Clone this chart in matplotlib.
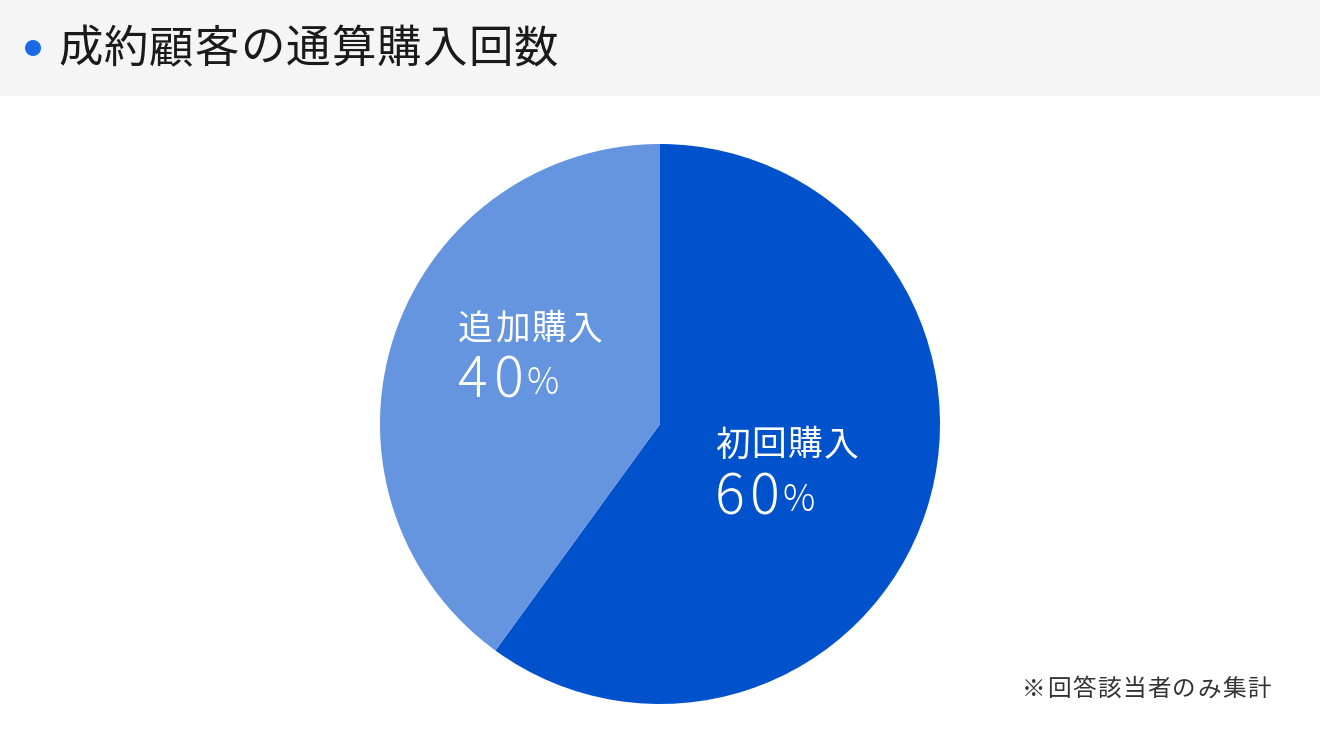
import matplotlib
matplotlib.use("Agg")
import matplotlib.pyplot as plt
from matplotlib.patches import Rectangle, Circle

plt.rcParams['font.family'] = ['Noto Sans CJK JP', 'DejaVu Sans']

title = "成約顧客の通算購入回数"
categories = ["初回購入", "追加購入"]
values = [60, 40]
colors = ["#0052CC", "#6495DE"]
note = "※回答該当者のみ集計"

W, H = 1320, 752
fig = plt.figure(figsize=(W / 100, H / 100), dpi=100)
ax = fig.add_axes([0, 0, 1, 1])
renderer = fig.canvas.get_renderer()


def Y(y):
    return H - y


def ink_width(s, size, weight='normal'):
    t = ax.text(0, 0, s, fontsize=size, fontweight=weight)
    w = t.get_window_extent(renderer=renderer).width
    t.remove()
    return w


def spaced(s, x0, x1, y, size, color, weight='normal'):
    """Draw string s with its glyphs spread evenly so the ink spans x0..x1."""
    n = len(s)
    g0 = ink_width(s[0], size, weight)
    g1 = ink_width(s[-1], size, weight)
    c0 = x0 + g0 / 2
    c1 = x1 - g1 / 2
    step = (c1 - c0) / (n - 1) if n > 1 else 0
    for i, ch in enumerate(s):
        ax.text(c0 + i * step, Y(y), ch, fontsize=size, color=color,
                ha='center', va='center', fontweight=weight)


# header bar
ax.add_patch(Rectangle((0, Y(96)), W, 96, color="#F5F5F5", lw=0, zorder=0))
ax.add_patch(Circle((33, Y(48)), 8, color="#1A6AE6", lw=0, zorder=1))
spaced(title, 58, 558, 49, 32, "#1A1A1A")

# pie
ax.pie(values, colors=colors, startangle=90, counterclock=False,
       center=(660, Y(424)), radius=280, frame=True,
       wedgeprops=dict(linewidth=0))
ax.set_xlim(0, W)
ax.set_ylim(0, H)
ax.set_aspect('equal')
ax.axis('off')

# labels: (name x0, x1, y), (digits x0, x1, y), percent x
label_layout = {
    "追加購入": ((458, 603, 330), (458, 524, 381), 527),
    "初回購入": ((715, 859, 446), (715, 780, 498), 783),
}
for cat, val in zip(categories, values):
    (nx0, nx1, ny), (dx0, dx1, dy), px = label_layout[cat]
    spaced(cat, nx0, nx1, ny, 25, "white")
    spaced(f"{val}", dx0, dx1, dy, 40, "white", weight='light')
    ax.text(px, Y(dy + 3), "%", fontsize=26, color="white", ha='left', va='center',
            fontweight='light')

spaced(note, 1022, 1271, 690, 17, "#333333")

fig.savefig("out.png", dpi=100)
